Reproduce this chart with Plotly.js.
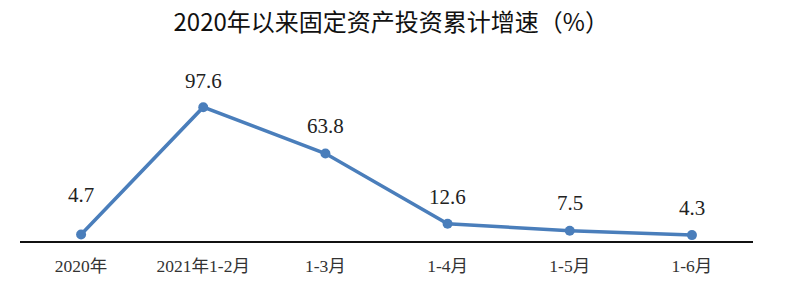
<!DOCTYPE html>
<html>
<head>
<meta charset="utf-8">
<script src="https://cdn.plot.ly/plotly-3.0.1.min.js"></script>
<style>html,body{margin:0;padding:0;background:#fff;}#chart{width:800px;height:300px;}</style>
</head>
<body>
<div id="chart"></div>
<script>
const categories = ["2020年", "2021年1-2月", "1-3月", "1-4月", "1-5月", "1-6月"];
const growth = [4.7, 97.6, 63.8, 12.6, 7.5, 4.3];
const labelOffsets = [40, 26, 28, 27, 28, 27];
const titleText = "2020年以来固定资产投资累计增速（%）";

const serif = "'Liberation Serif', 'DejaVu Serif', 'Noto Sans CJK SC', serif";

const trace = {
  x: categories,
  y: growth,
  type: 'scatter',
  mode: 'lines+markers',
  line: {color: '#4a7ebb', width: 3.5},
  marker: {color: '#4a7ebb', size: 10},
  hoverinfo: 'skip'
};

const annotations = categories.map((c, i) => ({
  x: c, y: growth[i], xref: 'x', yref: 'y',
  text: growth[i].toFixed(1),
  showarrow: false,
  yshift: labelOffsets[i],
  font: {family: serif, size: 21, color: '#222'}
}));

const layout = {
  width: 800, height: 300,
  margin: {l: 20, r: 47, t: 60, b: 59},
  paper_bgcolor: '#fff', plot_bgcolor: '#fff',
  showlegend: false,
  title: {text: titleText, x: 0.489, xanchor: 'center', y: 0.925, yanchor: 'middle',
          font: {family: "'Noto Sans CJK SC', sans-serif", size: 24, color: '#111'}},
  xaxis: {
    type: 'category', range: [-0.5, 5.5],
    showline: true, linecolor: '#111', linewidth: 1.7,
    showgrid: false, zeroline: false,
    ticks: 'outside', ticklen: 8, tickcolor: 'rgba(0,0,0,0)',
    tickfont: {family: serif, size: 17.5, color: '#333'},
    fixedrange: true
  },
  yaxis: {
    range: [0, 132], visible: false, showgrid: false, zeroline: false, fixedrange: true
  },
  annotations: annotations
};

Plotly.newPlot('chart', [trace], layout, {displayModeBar: false, staticPlot: true});
</script>
</body>
</html>
